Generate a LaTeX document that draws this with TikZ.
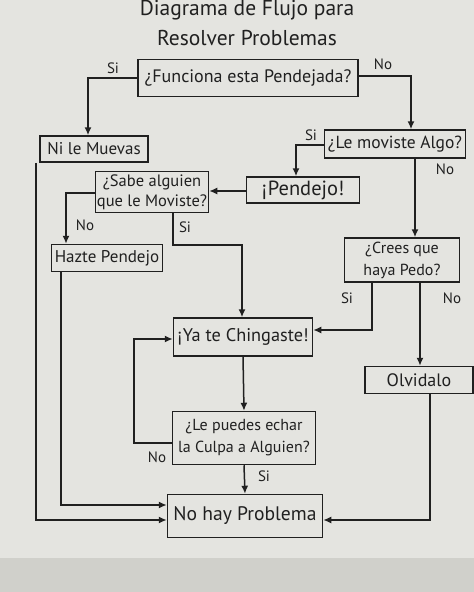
\documentclass[tikz,border=0pt]{standalone}
\usepackage{fontspec}
\setmainfont{PT Sans}
\usetikzlibrary{arrows.meta,calc}
\definecolor{paper}{RGB}{228,228,224}
\definecolor{paperdark}{RGB}{208,208,203}
\definecolor{ink}{RGB}{32,32,32}
\begin{document}
\begin{tikzpicture}[x=1pt,y=-1pt,
  box/.style={draw=ink,line width=1.5pt,inner sep=0pt,align=center,text=ink},
  big/.style={font=\fontsize{18}{21}\selectfont},
  mid/.style={font=\fontsize{16}{22}\selectfont},
  small/.style={font=\fontsize{16.5}{20}\selectfont},
  lbl/.style={font=\fontsize{15}{17}\selectfont,text=ink,inner sep=0pt},
  ttl/.style={font=\fontsize{21.5}{24}\selectfont,text=ink,anchor=base,inner sep=0pt},
  conn/.style={draw=ink,line width=1.5pt,-{Latex[length=8pt,width=7pt]}}]
\useasboundingbox (0,0) rectangle (474,592);
\fill[paper] (0,0) rectangle (474,592);
\fill[paperdark] (0,558) rectangle (474,592);

% title
\node[ttl] (t1) at (247,15) {Diagrama de Flujo para};
\node[ttl] (t2) at (247,45) {Resolver Problemas};

% boxes
\node[box,big,minimum width=220pt,minimum height=37pt] (f)  at (248,78)  {¿Funciona esta Pendejada?};
\node[box,font=\fontsize{17}{20}\selectfont,minimum width=108pt,minimum height=26pt] (ni) at (94,149)  {Ni le Muevas};
\node[box,font=\fontsize{17.5}{20}\selectfont,minimum width=141pt,minimum height=28pt] (lm) at (395,144) {¿Le moviste Algo?};
\node[box,font=\fontsize{20.5}{22}\selectfont,minimum width=113pt,minimum height=26pt] (pe) at (303,190) {¡Pendejo!};
\node[box,small,minimum width=113pt,minimum height=41pt] (sa) at (152,192) {¿Sabe alguien\\que le Moviste?};
\node[box,font=\fontsize{17}{20}\selectfont,minimum width=111pt,minimum height=27pt] (hp) at (107,258) {Hazte Pendejo};
\node[box,mid,minimum width=115pt,minimum height=44pt] (cq) at (402,260) {¿Crees que\\haya Pedo?};
\node[box,font=\fontsize{18.3}{21}\selectfont,minimum width=139pt,minimum height=38pt] (ya) at (243,337) {¡Ya te Chingaste!};
\node[box,big,minimum width=108pt,minimum height=27pt] (ol) at (419,380) {Olvidalo};
\node[box,mid,minimum width=143pt,minimum height=53pt] (lp) at (244,438) {¿Le puedes echar\\la Culpa a Alguien?};
\node[box,font=\fontsize{19.6}{22}\selectfont,minimum width=155pt,minimum height=43pt] (nh) at (245,516) {No hay Problema};

% connectors
\draw[conn] (f.west) -| ($(ni.north)+(-6,0)$);
\draw[conn] ($(f.east)+(0,-2)$) -| ($(lm.north)+(16,0)$);
\draw[conn] ($(lm.west)+(0,1)$) -| ($(pe.north)+(-7,0)$);
\draw[conn] ($(lm.south)+(20,0)$) -- ($(cq.north)+(13,0)$);
\draw[conn] ($(pe.west)+(0,1)$) -- ($(sa.east)+(0,-1)$);
\draw[conn] ($(sa.west)+(0,1)$) -| ($(hp.north)+(-41,0)$);
\draw[conn] ($(sa.south)+(21,0)$) |- (242,245) -- ($(ya.north)+(-1,0)$);
\draw[conn] ($(ni.south)+(-58,0)$) |- ($(nh.west)+(0,4)$);
\draw[conn] ($(hp.south)+(-46,0)$) |- ($(nh.west)+(0,-11)$);
\draw[conn] ($(cq.south)+(-30,0)$) |- ($(ya.east)+(0,-7)$);
\draw[conn] ($(cq.south)+(18,0)$) -- ($(ol.north)+(1,0)$);
\draw[conn] (ya.south) -- (lp.north);
\draw[conn] ($(lp.west)+(0,5)$) -| (134,339) -- ($(ya.west)+(0,2)$);
\draw[conn] (lp.south) -- (nh.north);
\draw[conn] ($(ol.south)+(11,0)$) |- ($(nh.east)+(0,4)$);

% labels
\node[lbl] (l1) at (113,68) {Si};
\node[lbl] (l2) at (383,64) {No};
\node[lbl] (l3) at (311,135) {Si};
\node[lbl] (l4) at (445,169) {No};
\node[lbl] (l5) at (85,225) {No};
\node[lbl] (l6) at (185,227) {Si};
\node[lbl] (l7) at (347,298) {Si};
\node[lbl] (l8) at (452,298) {No};
\node[lbl] (l9) at (157,457) {No};
\node[lbl] (l10) at (264,476) {Si};
\end{tikzpicture}
\end{document}
